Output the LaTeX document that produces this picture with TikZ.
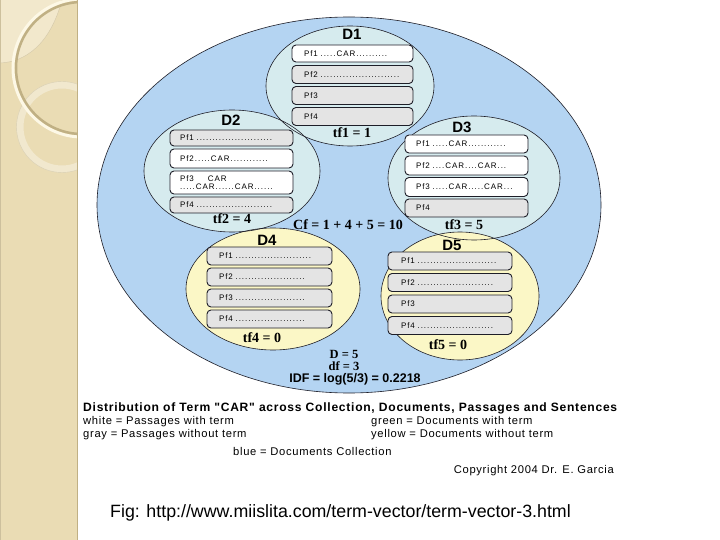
\documentclass[tikz,border=0pt]{standalone}
\usepackage{fontspec}
\setmainfont{Liberation Sans}
\newfontfamily\serifbf{Liberation Serif}
\newfontfamily\pffont[LetterSpace=12]{Liberation Sans}
\newfontfamily\legfont[LetterSpace=6]{Liberation Sans}
\usetikzlibrary{shapes.geometric}
\definecolor{stripc}{RGB}{234,220,180}
\definecolor{stripl}{RGB}{242,232,204}
\definecolor{stripd}{RGB}{192,176,132}
\definecolor{creamc}{RGB}{253,248,230}
\definecolor{collblue}{RGB}{180,212,242}
\definecolor{docgreen}{RGB}{214,235,238}
\definecolor{docyellow}{RGB}{251,247,198}
\definecolor{pgray}{RGB}{228,228,228}
\definecolor{outl}{RGB}{30,30,40}
\tikzset{
  pfbox/.style={draw=outl, line width=0.9pt, rounded corners=4pt, inner ysep=0pt,
     align=left, font=\pffont\fontsize{8}{9}\selectfont},
  pfw/.style={pfbox, fill=white},
  pfg/.style={pfbox, fill=pgray},
  dlabel/.style={font=\bfseries\fontsize{15}{15}\selectfont},
  tflabel/.style={font=\serifbf\bfseries\fontsize{14}{14}\selectfont},
  statlabel/.style={font=\serifbf\bfseries\fontsize{12.5}{12.5}\selectfont},
  leg/.style={font=\legfont\fontsize{11.2}{12}\selectfont, anchor=west, inner sep=0pt},
  ellout/.style={draw=outl, line width=0.6pt},
  boxa/.style={inner xsep=12pt, text width=97pt},
  boxb/.style={inner xsep=10pt, text width=103pt},
  boxc/.style={inner xsep=11pt, text width=101pt},
  boxd/.style={inner xsep=12pt, text width=101pt},
  boxe/.style={inner xsep=13pt, text width=98pt}
}
\begin{document}
\begin{tikzpicture}[x=1pt,y=-1pt]
\useasboundingbox (0,0) rectangle (720,540);
\fill[white] (0,0) rectangle (720,540);
% left decorative strip
\begin{scope}
\clip (0,0) rectangle (77,540);
\fill[stripc] (0,0) rectangle (77,540);
\fill[stripl] (0,0) -- (0,63) .. controls (25,62) and (50,45) .. (62,0) -- cycle;
\draw[stripd!70, line width=0.4pt] (0,63) .. controls (25,62) and (50,45) .. (62,0);
\draw[white, opacity=0.35, line width=7pt] (62,127) circle (42);
\draw[stripd!60, line width=0.4pt] (62,127) circle (45.5);
\draw[creamc, line width=3pt] (82,68) circle (69);
\draw[stripd, line width=2.5pt] (82,68) circle (66);
\end{scope}
\draw[stripd, line width=1pt] (77,0) -- (77,540);
\draw[stripd!80, line width=0.6pt] (0.3,0) -- (0.3,540);
% collection and documents
\fill[collblue] (349,205) ellipse [x radius=252, y radius=188];
\fill[docgreen] (350,86) ellipse [x radius=84, y radius=60];
\fill[docgreen] (232,171) ellipse [x radius=88, y radius=61];
\fill[docgreen] (474,178) ellipse [x radius=86, y radius=62];
\fill[docyellow] (273,289) ellipse [x radius=87, y radius=61];
\fill[docyellow] (460,296) ellipse [x radius=79, y radius=64];
\draw[ellout] (349,205) ellipse [x radius=252, y radius=188];
\draw[ellout] (350,86) ellipse [x radius=84, y radius=60];
\draw[ellout] (232,171) ellipse [x radius=88, y radius=61];
\draw[ellout] (474,178) ellipse [x radius=86, y radius=62];
\draw[ellout] (273,289) ellipse [x radius=87, y radius=61];
\draw[ellout] (460,296) ellipse [x radius=79, y radius=64];
% D1
\node[dlabel] (d1) at (352,34) {D1};
\node[pfw, boxa, minimum height=17pt] (d1p1) at (352.5,53.5) {Pf1 .....CAR..........};
\node[pfg, boxa, minimum height=18pt] (d1p2) at (352.5,74.5) {Pf2 .........................};
\node[pfg, boxa, minimum height=18pt] (d1p3) at (352.5,95.5) {Pf3};
\node[pfg, boxa, minimum height=18pt] (d1p4) at (352.5,116.5) {Pf4};
\node[tflabel] (tf1) at (352,133) {tf1 = 1};
% D2
\node[dlabel] (d2) at (231,120) {D2};
\node[pfg, boxb, minimum height=16pt] (d2p1) at (231.5,138) {Pf1 ........................};
\node[pfw, boxb, minimum height=19pt] (d2p2) at (231.5,158.5) {Pf2.....CAR............};
\node[pfw, boxb, minimum height=23pt] (d2p3) at (231.5,182.5) {Pf3\hspace{14pt}CAR\\[-1pt] .....CAR......CAR......};
\node[pfg, boxb, minimum height=16pt] (d2p4) at (231.5,205) {Pf4 ........................};
\node[tflabel] (tf2) at (232,219) {tf2 = 4};
% D3
\node[dlabel] (d3) at (462,127) {D3};
\node[pfw, boxc, minimum height=18pt] (d3p1) at (466.5,144) {Pf1 .....CAR............};
\node[pfw, boxc, minimum height=19pt] (d3p2) at (466.5,165.5) {Pf2 ....CAR....CAR...};
\node[pfw, boxc, minimum height=19pt] (d3p3) at (466.5,187) {Pf3 .....CAR.....CAR...};
\node[pfg, boxc, minimum height=18pt] (d3p4) at (466.5,208) {Pf4};
\node[tflabel] (tf3) at (464,225) {tf3 = 5};
% centre
\node[tflabel] (cf) at (348,225) {Cf = 1 + 4 + 5 = 10};
% D4
\node[dlabel] (d4) at (267,240) {D4};
\node[pfg, boxd, minimum height=18pt] (d4p1) at (269.5,256) {Pf1 ........................};
\node[pfg, boxd, minimum height=18pt] (d4p2) at (269.5,277) {Pf2 ......................};
\node[pfg, boxd, minimum height=18pt] (d4p3) at (269.5,298) {Pf3 ......................};
\node[pfg, boxd, minimum height=18pt] (d4p4) at (269.5,319) {Pf4 ......................};
\node[tflabel] (tf4) at (262,338) {tf4 = 0};
% D5
\node[dlabel] (d5) at (452,245) {D5};
\node[pfg, boxe, minimum height=18pt] (d5p1) at (450,261) {Pf1 .........................};
\node[pfg, boxe, minimum height=18pt] (d5p2) at (450,282.5) {Pf2 ........................};
\node[pfg, boxe, minimum height=18pt] (d5p3) at (450,304) {Pf3};
\node[pfg, boxe, minimum height=18pt] (d5p4) at (450,325.5) {Pf4 ........................};
\node[tflabel] (tf5) at (448,345) {tf5 = 0};
% stats
\node[statlabel] (bigd) at (344,354) {D = 5};
\node[statlabel] (df) at (344,366.5) {df = 3};
\node[font=\bfseries\fontsize{12.5}{13}\selectfont] (idf) at (355,379) {IDF = log(5/3) = 0.2218};
% legend
\node[leg, font=\legfont\bfseries\fontsize{12.1}{12.5}\selectfont] (title) at (83,408) {Distribution of Term "CAR" across Collection, Documents, Passages and Sentences};
\node[leg] (lw) at (83,422) {white = Passages with term};
\node[leg] (lg) at (83,435) {gray = Passages without term};
\node[leg] (lgr) at (371,422) {green = Documents with term};
\node[leg] (ly) at (371,435) {yellow = Documents without term};
\node[leg] (lb) at (233,451) {blue = Documents Collection};
\node[leg, anchor=east] (copy) at (614,471) {Copyright 2004 Dr. E. Garcia};
\node[anchor=west, inner sep=0pt, font=\fontsize{17.8}{18}\selectfont] (fig) at (110,513) {Fig: http://www.miislita.com/term-vector/term-vector-3.html};
\end{tikzpicture}
\end{document}
